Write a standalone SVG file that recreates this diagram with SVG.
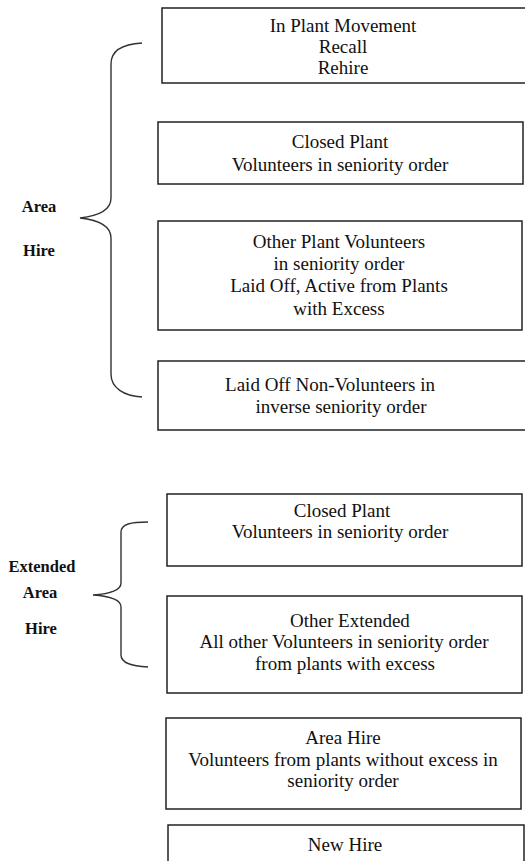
<svg xmlns="http://www.w3.org/2000/svg" width="525" height="861" viewBox="0 0 525 861">
<style>
.box{fill:#fff;stroke:#222;stroke-width:1.5}
.t{font-family:"Liberation Serif","Times New Roman",serif;font-size:19px;fill:#111;text-anchor:middle}
.lbl{font-family:"Liberation Serif","Times New Roman",serif;font-size:16.5px;font-weight:bold;fill:#111;text-anchor:middle}
.brace{fill:none;stroke:#333;stroke-width:1.4}
</style>
<rect width="525" height="861" fill="#fff"/>
<g id="connectors">
<path class="brace" d="M142,43 C124,44 111,50 111,64 L111,198 C111,210 98,216 80,218 C98,220 111,226 111,238 L111,374 C111,388 124,396 142,397"/>
<path class="brace" d="M148,522 C131,522 121,524 121,532 L121,583 C121,591 108,594 93,595 C108,596 121,599 121,607 L121,655 C121,663 131,666 148,667"/>
</g>
<g id="label-area-hire">
<text class="lbl" x="39" y="212">Area</text>
<text class="lbl" x="39" y="256">Hire</text>
</g>
<g id="label-extended">
<text class="lbl" x="42" y="572">Extended</text>
<text class="lbl" x="40" y="598">Area</text>
<text class="lbl" x="41" y="634">Hire</text>
</g>
<g id="n1">
<rect class="box" x="162" y="8" width="370" height="75"/>
<text class="t" x="343" y="32">In Plant Movement</text>
<text class="t" x="343" y="53">Recall</text>
<text class="t" x="343" y="74">Rehire</text>
</g>
<g id="n2">
<rect class="box" x="158" y="122" width="365" height="62"/>
<text class="t" x="340" y="148">Closed Plant</text>
<text class="t" x="340" y="171">Volunteers in seniority order</text>
</g>
<g id="n3">
<rect class="box" x="158" y="221" width="364" height="109"/>
<text class="t" x="339" y="248">Other Plant Volunteers</text>
<text class="t" x="339" y="270">in seniority order</text>
<text class="t" x="339" y="292">Laid Off, Active from Plants</text>
<text class="t" x="339" y="315">with Excess</text>
</g>
<g id="n4">
<rect class="box" x="158" y="361" width="374" height="69"/>
<text class="t" x="330" y="391">Laid Off Non-Volunteers in</text>
<text class="t" x="341" y="413">inverse seniority order</text>
</g>
<g id="n5">
<rect class="box" x="167" y="494" width="355" height="72"/>
<text class="t" x="342" y="517">Closed Plant</text>
<text class="t" x="340" y="538">Volunteers in seniority order</text>
</g>
<g id="n6">
<rect class="box" x="167" y="596" width="355" height="97"/>
<text class="t" x="350" y="627">Other Extended</text>
<text class="t" x="344" y="648">All other Volunteers in seniority order</text>
<text class="t" x="345" y="670">from plants with excess</text>
</g>
<g id="n7">
<rect class="box" x="166" y="718" width="355" height="91"/>
<text class="t" x="343" y="744">Area Hire</text>
<text class="t" x="343" y="766">Volunteers from plants without excess in</text>
<text class="t" x="343" y="787">seniority order</text>
</g>
<g id="n8">
<rect class="box" x="168" y="825" width="356" height="50"/>
<text class="t" x="345" y="851">New Hire</text>
</g>
</svg>
